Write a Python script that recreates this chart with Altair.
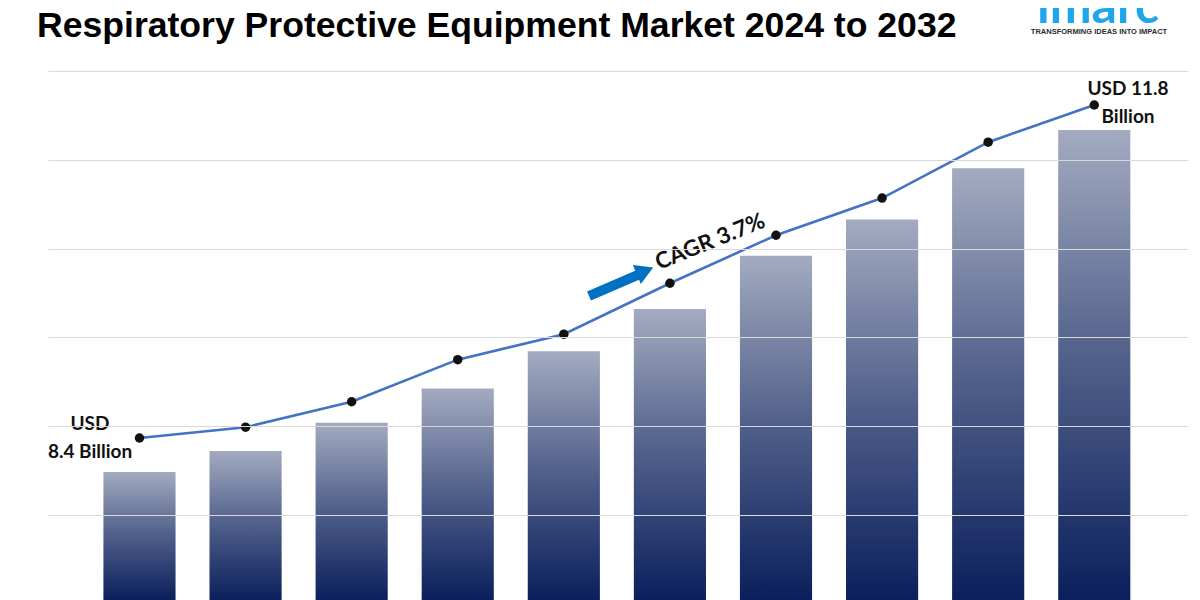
import altair as alt
import pandas as pd

# ---- data (USD billion) ----
years = [str(y) for y in range(2023, 2033)]
bar_values = [8.40, 8.61, 8.89, 9.23, 9.60, 10.02, 10.55, 10.91, 11.42, 11.80]
trend_values = [8.40, 8.51, 8.77, 9.20, 9.46, 9.98, 10.47, 10.85, 11.42, 11.80]

title_text = "Respiratory Protective Equipment Market 2024 to 2032"
start_label = ["USD", "8.4 Billion"]
end_label = ["USD 11.8", "Billion"]
cagr_label = "CAGR 3.7%"
logo_text = "imarc"
logo_tagline = "TRANSFORMING IDEAS INTO IMPACT"

df = pd.DataFrame({"year": years, "bar": bar_values, "trend": trend_values})
one = pd.DataFrame({"k": [0]})

# ---- style / scale settings ----
W, H = 1140, 529
BAR_MIN, BAR_MAX = 7.128, 12.386
LINE_MIN, LINE_MAX = 6.746, 12.147
GRID_STEP = 88.8 * (BAR_MAX - BAR_MIN) / H
grid_values = [BAR_MAX - k * GRID_STEP for k in range(6)]

xscale = alt.Scale(type="band", paddingInner=0.32, paddingOuter=0.533, align=0.49)
X = alt.X("year:N", scale=xscale, axis=None, sort=None)

gradient = alt.Gradient(
    gradient="linear",
    stops=[
        alt.GradientStop(color="#a3abc0", offset=0),
        alt.GradientStop(color="#4f5e89", offset=0.5),
        alt.GradientStop(color="#0a1f5c", offset=1),
    ],
    x1=0, x2=0, y1=0, y2=1,
)

bars = alt.Chart(df).mark_bar(color=gradient).encode(
    x=X,
    y=alt.Y(
        "bar:Q",
        scale=alt.Scale(domain=[BAR_MIN, BAR_MAX], zero=False, nice=False),
        axis=alt.Axis(
            values=grid_values, grid=True, gridColor="#d9d9d9", gridWidth=1,
            labels=False, ticks=False, domain=False, title=None, zindex=1,
        ),
    ),
    y2=alt.datum(BAR_MIN),
)

line_y = alt.Y("trend:Q", scale=alt.Scale(domain=[LINE_MIN, LINE_MAX], zero=False, nice=False), axis=None)
line = alt.Chart(df).mark_line(color="#4472C4", strokeWidth=2.6).encode(x=X, y=line_y)
dots = alt.Chart(df).mark_circle(size=90, color="#111111", opacity=1).encode(x=X, y=line_y)

FONT = "Lato"

def txt(text, x, y, size, align="center", angle=0, color="#111111", font=FONT, weight="bold"):
    kw = dict(text=text, fontSize=size, font=font, fontWeight=weight, color=color,
              align=align, baseline="alphabetic")
    if angle:
        kw["angle"] = angle
    return alt.Chart(one).mark_text(**kw).encode(x=alt.value(x), y=alt.value(y))

title = txt(title_text, -11, -34, 35.6, align="left", color="#000000", font="Liberation Sans")
lbl1a = txt(start_label[0], 42, 359, 19)
lbl1b = txt(start_label[1], 42, 387, 19)
lbl2a = txt(end_label[0], 1080, 24, 19)
lbl2b = txt(end_label[1], 1080, 52, 19)
cagr = txt(cagr_label, 611, 199, 22.5, align="left", angle=338)

arrow_shaft = alt.Chart(one).mark_rule(color="#0070C0", strokeWidth=10).encode(
    x=alt.value(541), x2=alt.value(592), y=alt.value(225), y2=alt.value(203)
)
arrow_head = alt.Chart(one).mark_point(
    shape="triangle-right", filled=True, color="#0070C0", size=420, angle=337, opacity=1
).encode(x=alt.value(597), y=alt.value(200))

logo = txt(logo_text, 1050, -48, 50, color="#1ea5ec", font=FONT)
tag = txt(logo_tagline, 1051, -37, 7.5, color="#2b2b2b", font="Liberation Sans")

chart = alt.layer(
    bars, line, dots, arrow_shaft, arrow_head, cagr, lbl1a, lbl1b, lbl2a, lbl2b, title, logo, tag
).resolve_scale(y="independent").properties(
    width=W, height=H,
    autosize=alt.AutoSizeParams(type="none"),
    padding={"left": 40, "top": 63, "right": 4, "bottom": 0},
    background="#ffffff",
).configure_view(stroke=None)

chart.save("out.html", embed_options={"renderer": "svg", "actions": False})
